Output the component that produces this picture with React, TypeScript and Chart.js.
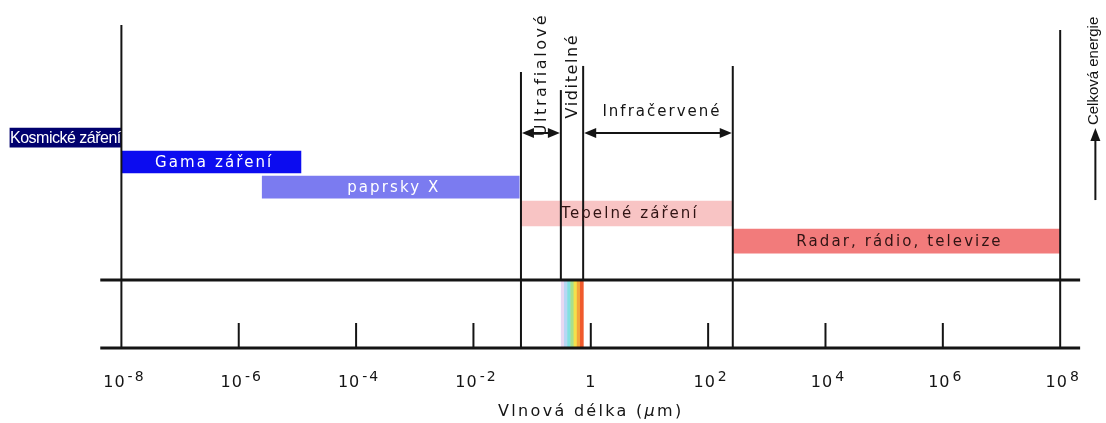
import React, { useEffect, useRef } from 'react';
import { Chart, registerables } from 'chart.js';

Chart.register(...registerables);

// ---------- data (log10 of wavelength in µm) ----------
const bandLabels = ['Kosmické záření', 'Gama záření', 'paprsky X', 'Tepelné záření', 'Radar, rádio, televize'];
const bandStart = [-9.9, -8, -5.6, -1.19, 2.42];
const bandEnd = [-8, -4.94, -1.22, 2.42, 8];
const bandColors = ['#00006e', '#0c0cf0', '#7b7bf0', '#f8c4c4', '#f27b7b'];
const bandTextColors = ['#ffffff', '#ffffff', '#ffffff', '#301414', '#301414'];

const tickExponents = [-8, -6, -4, -2, 0, 2, 4, 6, 8];
const tickBase = ['10', '10', '10', '10', '1', '10', '10', '10', '10'];
const tickSuper = ['-8', '-6', '-4', '-2', '', '2', '4', '6', '8'];

const uvStart = -1.19;
const visStart = -0.51;
const visEnd = -0.13;
const irEnd = 2.42;
const axisLeft = -8.36;
const axisRight = 8.34;

const regionLabels = ['Ultrafialové', 'Viditelné', 'Infračervené'];
const spectrumColors = ['#e8d8f2', '#b6d6f4', '#82e0e0', '#a8e08c', '#f4e04c', '#f4a63c', '#f05a2c'];
const axisTitleParts = ['Vlnová délka (', 'µ', 'm)'];
const energyLabel = 'Celková energie';
const energyX = 8.6;

// ---------- layout (rows of the vertical scale) ----------
const barRows = [5.53, 6.51, 7.52, 8.58, 9.69];
const barThick = [19, 22, 22, 25, 24];
const upperAxisRow = 11.25;
const lowerAxisRow = 13.99;
const tickTopRow = 12.98;
const arrowRow = 5.35;
const tickLabelRow = 15.55;
const titleRow = 16.55;

const verticalLines = [
  { v: -8, top: 1.0, bottom: lowerAxisRow },
  { v: uvStart, top: 2.89, bottom: lowerAxisRow },
  { v: visStart, top: 3.62, bottom: upperAxisRow },
  { v: visEnd, top: 2.65, bottom: upperAxisRow },
  { v: irEnd, top: 2.65, bottom: lowerAxisRow },
  { v: 8, top: 1.21, bottom: lowerAxisRow },
];

const FONT = '"DejaVu Sans", Verdana, sans-serif';
const INK = '#141414';

function arrowHead(ctx: CanvasRenderingContext2D, x: number, y: number, dir: number) {
  ctx.beginPath();
  ctx.moveTo(x, y);
  ctx.lineTo(x - dir * 12, y - 5);
  ctx.lineTo(x - dir * 12, y + 5);
  ctx.closePath();
  ctx.fill();
}

function doubleArrow(ctx: CanvasRenderingContext2D, x1: number, x2: number, y: number) {
  ctx.beginPath();
  ctx.moveTo(x1 + 4, y);
  ctx.lineTo(x2 - 4, y);
  ctx.stroke();
  arrowHead(ctx, x1 + 1, y, -1);
  arrowHead(ctx, x2 - 1, y, 1);
}

function spacedText(ctx: CanvasRenderingContext2D, text: string, x: number, y: number, spacing: number) {
  (ctx as any).letterSpacing = spacing + 'px';
  const w = ctx.measureText(text).width - spacing;
  ctx.textAlign = 'left';
  ctx.fillText(text, x - w / 2, y);
  (ctx as any).letterSpacing = '0px';
}

const diagramPlugin = {
  id: 'diagram',
  afterDatasetsDraw(chart: any) {
    const ctx: CanvasRenderingContext2D = chart.ctx;
    const xs = chart.scales.x;
    const ys = chart.scales.y;
    const X = (v: number) => xs.getPixelForValue(v);
    const Y = (v: number) => ys.getPixelForValue(v);
    ctx.save();

    // visible spectrum strip
    const n = spectrumColors.length;
    for (let i = 0; i < n; i++) {
      const a = X(visStart + ((visEnd - visStart) * i) / n);
      const b = X(visStart + ((visEnd - visStart) * (i + 1)) / n);
      ctx.fillStyle = spectrumColors[i];
      ctx.fillRect(a, Y(upperAxisRow), b - a + 0.5, Y(lowerAxisRow) - Y(upperAxisRow));
    }

    ctx.strokeStyle = INK;
    ctx.fillStyle = INK;

    // vertical boundary lines
    ctx.lineWidth = 2;
    verticalLines.forEach((l) => {
      ctx.beginPath();
      ctx.moveTo(X(l.v), Y(l.top));
      ctx.lineTo(X(l.v), Y(l.bottom));
      ctx.stroke();
    });

    // horizontal axis lines
    ctx.lineWidth = 3;
    [upperAxisRow, lowerAxisRow].forEach((r) => {
      ctx.beginPath();
      ctx.moveTo(X(axisLeft), Y(r));
      ctx.lineTo(X(axisRight), Y(r));
      ctx.stroke();
    });

    // small ticks
    ctx.lineWidth = 2;
    tickExponents.forEach((e) => {
      if (e === -8 || e === 8) return;
      ctx.beginPath();
      ctx.moveTo(X(e), Y(tickTopRow));
      ctx.lineTo(X(e), Y(lowerAxisRow));
      ctx.stroke();
    });

    // region arrows
    ctx.lineWidth = 2;
    doubleArrow(ctx, X(uvStart), X(visStart), Y(arrowRow));
    doubleArrow(ctx, X(visEnd), X(irEnd), Y(arrowRow));

    // energy arrow
    const ex = X(energyX);
    ctx.beginPath();
    ctx.moveTo(ex, Y(8.04));
    ctx.lineTo(ex, Y(5.14) + 8);
    ctx.stroke();
    ctx.beginPath();
    ctx.moveTo(ex, Y(5.14));
    ctx.lineTo(ex - 5, Y(5.14) + 13);
    ctx.lineTo(ex + 5, Y(5.14) + 13);
    ctx.closePath();
    ctx.fill();

    // band labels
    ctx.textBaseline = 'middle';
    chart.data.datasets.forEach((ds: any, i: number) => {
      const el = chart.getDatasetMeta(i).data[0];
      if (!el) return;
      const cx = (el.x + el.base) / 2;
      const cy = el.y;
      ctx.fillStyle = bandTextColors[i];
      if (i === 0) {
        ctx.font = '16px "Liberation Sans", Arial, sans-serif';
        spacedText(ctx, bandLabels[i], cx, cy + 1, -0.5);
      } else {
        ctx.font = '15px ' + FONT;
        spacedText(ctx, bandLabels[i], cx + 2, cy + 1, 2.1);
      }
    });

    ctx.fillStyle = INK;
    // vertical region labels
    ctx.font = '16px ' + FONT;
    const vertical = (text: string, x: number, y: number, sp: number) => {
      ctx.save();
      ctx.translate(x, y);
      ctx.rotate(-Math.PI / 2);
      spacedText(ctx, text, 0, 0, sp);
      ctx.restore();
    };
    vertical(regionLabels[0], (X(uvStart) + X(visStart)) / 2 + 1, Y(3.05), 2.6);
    vertical(regionLabels[1], (X(visStart) + X(visEnd)) / 2 + 1, Y(3.09), 1.6);
    ctx.font = '15px ' + FONT;
    spacedText(ctx, regionLabels[2], (X(visEnd) + X(irEnd)) / 2 + 3, Y(4.5), 2);

    // energy label
    ctx.font = '15px "Liberation Sans", Arial, sans-serif';
    vertical(energyLabel, ex - 2, Y(2.85), 0);

    // tick labels
    tickExponents.forEach((e, i) => {
      const baseFont = '16px ' + FONT;
      const supFont = '14px ' + FONT;
      ctx.font = baseFont;
      (ctx as any).letterSpacing = '1px';
      const bw = ctx.measureText(tickBase[i]).width;
      ctx.font = supFont;
      (ctx as any).letterSpacing = '2px';
      const sw = tickSuper[i] ? ctx.measureText(tickSuper[i]).width + 2 : 0;
      const total = bw + sw;
      const left = X(e) - total / 2 + (tickSuper[i] ? 3 : 0);
      const by = Y(tickLabelRow);
      ctx.textAlign = 'left';
      ctx.textBaseline = 'alphabetic';
      ctx.font = baseFont;
      (ctx as any).letterSpacing = '1px';
      ctx.fillText(tickBase[i], left, by);
      if (tickSuper[i]) {
        ctx.font = supFont;
        (ctx as any).letterSpacing = '2px';
        ctx.fillText(tickSuper[i], left + bw + 2, by - 6);
      }
      (ctx as any).letterSpacing = '0px';
    });

    // axis title
    ctx.textBaseline = 'middle';
    (ctx as any).letterSpacing = '2.3px';
    const fonts = ['16px ' + FONT, 'italic 16px ' + FONT, '16px ' + FONT];
    let tw = 0;
    const widths = axisTitleParts.map((p, k) => {
      ctx.font = fonts[k];
      const w = ctx.measureText(p).width;
      tw += w;
      return w;
    });
    let tx = X(0) - tw / 2;
    ctx.textAlign = 'left';
    axisTitleParts.forEach((p, k) => {
      ctx.font = fonts[k];
      ctx.fillText(p, tx, Y(titleRow));
      tx += widths[k];
    });
    (ctx as any).letterSpacing = '0px';

    ctx.restore();
  },
};

export default function App() {
  const ref = useRef<HTMLCanvasElement | null>(null);
  useEffect(() => {
    if (!ref.current) return;
    const datasets = bandLabels.map((label, i) => ({
      label,
      data: [{ x: [bandStart[i], bandEnd[i]], y: barRows[i] }],
      backgroundColor: bandColors[i],
      borderWidth: 0,
      barThickness: barThick[i],
      grouped: false,
    }));
    const chart = new Chart(ref.current, {
      type: 'bar',
      data: { datasets } as any,
      options: {
        indexAxis: 'y',
        animation: false,
        responsive: true,
        maintainAspectRatio: false,
        events: [],
        layout: { padding: 0 },
        plugins: { legend: { display: false }, tooltip: { enabled: false } },
        scales: {
          x: { type: 'linear', min: -10.069, max: 8.781, display: false, offset: false },
          y: { type: 'linear', min: 0, max: 17, reverse: true, display: false, offset: false },
        },
      } as any,
      plugins: [diagramPlugin],
    });
    return () => chart.destroy();
  }, []);
  return (
    <div style={{ position: 'fixed', left: 0, top: 0, width: 1106, height: 423, background: '#ffffff' }}>
      <canvas ref={ref} />
    </div>
  );
}
